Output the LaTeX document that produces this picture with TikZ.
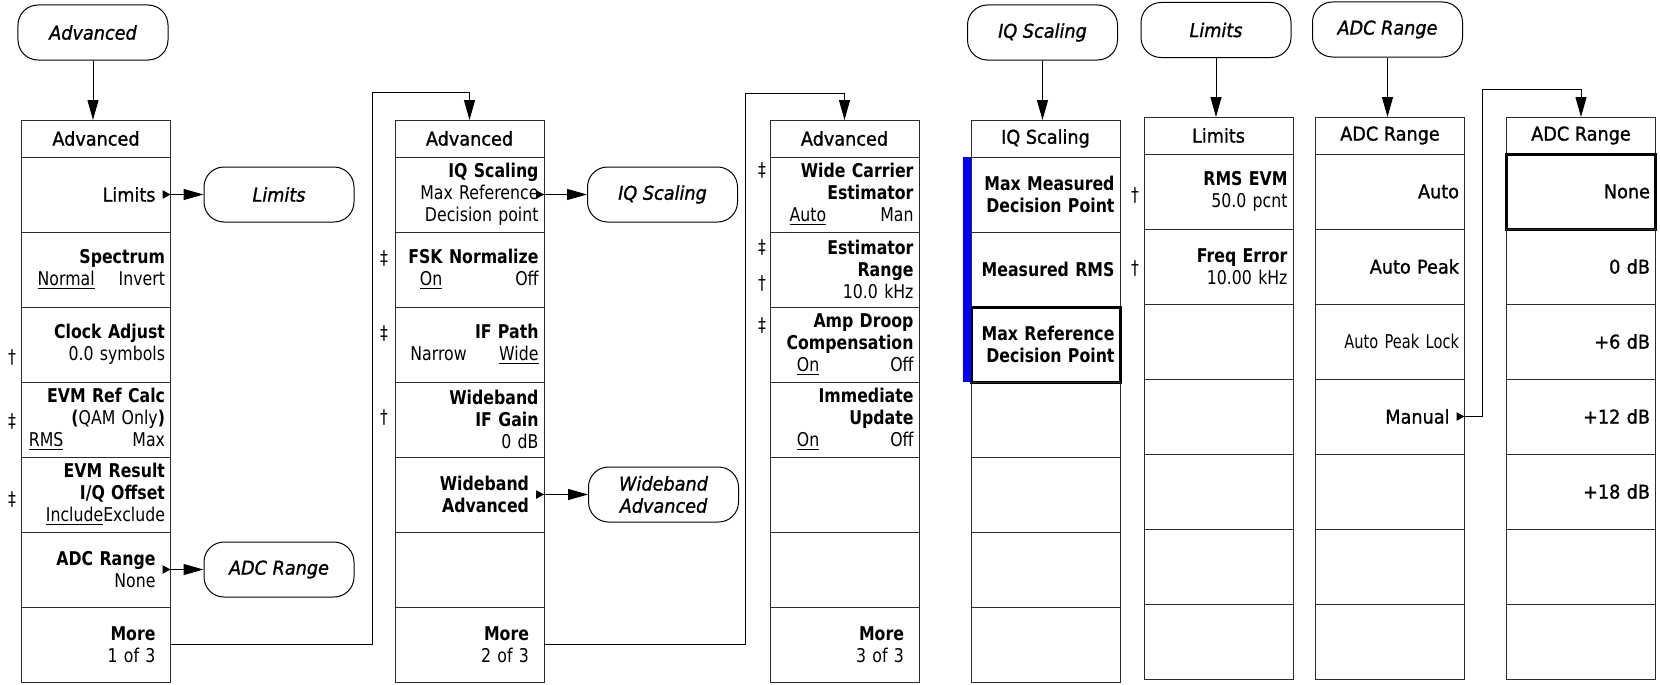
\documentclass[tikz,border=0pt]{standalone}
\usepackage{fontspec}
\setmainfont{DejaVu Sans}[FakeStretch=0.83]
\newfontfamily\headfont{DejaVu Sans}[FakeStretch=0.93,FakeBold=1.2]
\newfontfamily\narrowfont{DejaVu Sans}[FakeStretch=0.77]
\usetikzlibrary{arrows.meta,positioning}
\definecolor{framegray}{HTML}{2B2B2B}
\definecolor{barblue}{HTML}{0000FF}
\tikzset{
  menutitle/.style={
    draw=framegray,
    line width=0.2mm,
    outer sep=0pt,
    minimum width=29.8mm,
    minimum height=7.4mm,
    inner sep=0pt,
    font=\headfont\fontsize{10.8}{12.6}\selectfont
  },
  softkey/.style={
    draw=framegray,
    line width=0.2mm,
    outer sep=0pt,
    minimum width=29.8mm,
    minimum height=15mm,
    text width=27.6mm,
    inner xsep=1.1mm,
    inner ysep=1pt,
    align=right,
    font=\fontsize{10.8}{12.6}\selectfont
  },
  linkkey/.style={softkey,text width=23.8mm},
  selkey/.style={softkey,draw=black,line width=0.6mm},
  menuoval/.style={
    draw=black,
    line width=0.2mm,
    rounded corners=4mm,
    minimum width=30mm,
    minimum height=11mm,
    align=center,
    font=\headfont\itshape\fontsize{10.8}{12.6}\selectfont
  },
  daggermark/.style={inner sep=0pt,font=\fontsize{10.8}{12.6}\selectfont},
  flowarrow/.style={-{Triangle[length=4mm,width=2.2mm]},line width=0.2mm,draw=black},
  keylink/.style={{Triangle[length=1.6mm,width=1.7mm,reversed]}-{Triangle[length=4mm,width=2.2mm]},line width=0.2mm,draw=black}
}
\begin{document}
\begin{tikzpicture}[x=0.2mm,y=-0.2mm]
  \useasboundingbox (0,0) rectangle (1660,685);

  % first Advanced menu
  \node[menutitle] (m1) at (96,138.5) {Advanced};
  \node[linkkey,below=0pt of m1] (m1a) {\headfont Limits};
  \node[softkey,below=0pt of m1a] (m1b) {\textbf{Spectrum}\\
    \underline{Normal}\hspace{4.8mm}Invert};
  \node[softkey,below=0pt of m1b] (m1c) {\textbf{Clock Adjust}\\
    0.0 symbols};
  \node[softkey,below=0pt of m1c] (m1d) {\textbf{EVM Ref Calc}\\
    \textbf{(}QAM Only\textbf{)}\\\underline{RMS}\hspace{13.8mm}Max};
  \node[softkey,below=0pt of m1d] (m1e) {\textbf{EVM Result}\\
    \textbf{I/Q Offset}\\\underline{Include}Exclude};
  \node[linkkey,below=0pt of m1e] (m1f) {\textbf{ADC Range}\\None};
  \node[linkkey,below=0pt of m1f] (m1g) {\textbf{More}\\1 of 3};

  % second Advanced menu
  \node[menutitle] (m2) at (469.5,138.5) {Advanced};
  \node[softkey,below=0pt of m2] (m2a) {\textbf{IQ Scaling}\\
    Max Reference\hspace*{2mm}\\Decision point};
  \node[softkey,below=0pt of m2a] (m2b) {\textbf{FSK Normalize}\\
    \underline{On}\hspace{14.6mm}Off};
  \node[softkey,below=0pt of m2b] (m2c) {\textbf{IF Path}\\
    Narrow\hspace{6.5mm}\underline{Wide}};
  \node[softkey,below=0pt of m2c] (m2d) {\textbf{Wideband}\\
    \textbf{IF Gain}\\0 dB};
  \node[linkkey,below=0pt of m2d] (m2e) {\textbf{Wideband}\\\textbf{Advanced}};
  \node[softkey,below=0pt of m2e] (m2f) {};
  \node[linkkey,below=0pt of m2f] (m2g) {\textbf{More}\\2 of 3};

  % third Advanced menu
  \node[menutitle] (m3) at (844.5,138.5) {Advanced};
  \node[softkey,below=0pt of m3] (m3a) {\textbf{Wide Carrier}\\
    \textbf{Estimator}\\\underline{Auto}\hspace{10.8mm}Man};
  \node[softkey,below=0pt of m3a] (m3b) {\textbf{Estimator}\\
    \textbf{Range}\\10.0 kHz};
  \node[softkey,below=0pt of m3b] (m3c) {\textbf{Amp Droop}\\
    \textbf{Compensation}\\\underline{On}\hspace{14.2mm}Off};
  \node[softkey,below=0pt of m3c] (m3d) {\textbf{Immediate}\\
    \textbf{Update}\\\underline{On}\hspace{14.2mm}Off};
  \node[softkey,below=0pt of m3d] (m3e) {};
  \node[softkey,below=0pt of m3e] (m3f) {};
  \node[linkkey,below=0pt of m3f] (m3g) {\textbf{More}\\3 of 3};

  % IQ Scaling menu
  \node[menutitle] (iq) at (1045.5,138.5) {IQ Scaling};
  \node[softkey,below=0pt of iq] (iqa) {\textbf{Max Measured}\\
    \textbf{Decision Point}};
  \node[softkey,below=0pt of iqa] (iqb) {\textbf{Measured RMS}};
  \node[selkey,below=0pt of iqb] (iqc) {\textbf{Max Reference}\\
    \textbf{Decision Point}};
  \node[softkey,below=0pt of iqc] (iqd) {};
  \node[softkey,below=0pt of iqd] (iqe) {};
  \node[softkey,below=0pt of iqe] (iqf) {};
  \node[softkey,below=0pt of iqf] (iqg) {};
  \fill[barblue] ([xshift=-1.6mm]iqa.north west) rectangle (iqc.south west);

  % Limits menu
  \node[menutitle] (lim) at (1218.5,135.5) {Limits};
  \node[softkey,below=0pt of lim] (lima) {\textbf{RMS EVM}\\50.0 pcnt};
  \node[softkey,below=0pt of lima] (limb) {\textbf{Freq Error}\\10.00 kHz};
  \node[softkey,below=0pt of limb] (limc) {};
  \node[softkey,below=0pt of limc] (limd) {};
  \node[softkey,below=0pt of limd] (lime) {};
  \node[softkey,below=0pt of lime] (limf) {};
  \node[softkey,below=0pt of limf] (limg) {};

  % ADC Range menus
  \node[menutitle] (a1) at (1390,135.5) {ADC Range};
  \node[softkey,below=0pt of a1] (a1a) {\headfont Auto};
  \node[softkey,below=0pt of a1a] (a1b) {\headfont Auto Peak};
  \node[softkey,below=0pt of a1b] (a1c) {\narrowfont Auto Peak Lock};
  \node[linkkey,below=0pt of a1c] (a1d) {\headfont Manual};
  \node[softkey,below=0pt of a1d] (a1e) {};
  \node[softkey,below=0pt of a1e] (a1f) {};
  \node[softkey,below=0pt of a1f] (a1g) {};

  \node[menutitle] (a2) at (1581,135.5) {ADC Range};
  \node[selkey,below=0pt of a2] (a2a) {\headfont None};
  \node[softkey,below=0pt of a2a] (a2b) {\headfont 0 dB};
  \node[softkey,below=0pt of a2b] (a2c) {\headfont +6 dB};
  \node[softkey,below=0pt of a2c] (a2d) {\headfont +12 dB};
  \node[softkey,below=0pt of a2d] (a2e) {\headfont +18 dB};
  \node[softkey,below=0pt of a2e] (a2f) {};
  \node[softkey,below=0pt of a2f] (a2g) {};

  % ovals
  \node[menuoval] (ovadv) at (93,32.5) {Advanced};
  \node[menuoval,right=6.6mm of m1a] (ovlim) {Limits};
  \node[menuoval,right=6.6mm of m1f] (ovadc) {ADC Range};
  \node[menuoval,right=8.6mm of m2a] (oviq) {IQ Scaling};
  \node[menuoval,right=8.8mm of m2e] (ovwide) {Wideband\\Advanced};
  \node[menuoval] (oviqtop) at (1042.5,32.5) {IQ Scaling};
  \node[menuoval] (ovlimtop) at (1216,30) {Limits};
  \node[menuoval] (ovadctop) at (1387.5,29.5) {ADC Range};

  % daggers
  \node[daggermark] (dg1) at (12,357) {†};
  \node[daggermark] (dg2) at (12,421) {‡};
  \node[daggermark] (dg3) at (12,499) {‡};
  \node[daggermark] (dg4) at (384,258) {‡};
  \node[daggermark] (dg5) at (384,333) {‡};
  \node[daggermark] (dg6) at (384,417) {†};
  \node[daggermark] (dg7) at (762,170) {‡};
  \node[daggermark] (dg8) at (762,247) {‡};
  \node[daggermark] (dg9) at (762,283) {†};
  \node[daggermark] (dg10) at (762,325) {‡};
  \node[daggermark] (dg11) at (1135,195) {†};
  \node[daggermark] (dg12) at (1135,268) {†};

  % connectors
  \coordinate (turn1) at (372,92);
  \coordinate (turn2) at (745,93);
  \coordinate (turn3) at (1482,89);
  \draw[flowarrow] (ovadv.south) -- (ovadv.south |- m1.north);
  \draw[flowarrow] (oviqtop.south) -- (oviqtop.south |- iq.north);
  \draw[flowarrow] (ovlimtop.south) -- (ovlimtop.south |- lim.north);
  \draw[flowarrow] (ovadctop.south) -- (ovadctop.south |- a1.north);
  \draw[keylink] ([xshift=-1.6mm]m1a.east) -- (ovlim);
  \draw[keylink] ([xshift=-1.6mm]m1f.east) -- (ovadc);
  \draw[keylink] ([xshift=-1.6mm]m2a.east) -- (oviq);
  \draw[keylink] ([xshift=-1.6mm]m2e.east) -- (ovwide);
  \draw[flowarrow] (m1g.east) -| (turn1) -| (m2.north);
  \draw[flowarrow] (m2g.east) -| (turn2) -| (m3.north);
  \draw[keylink] ([xshift=-1.6mm]a1d.east) -| (turn3) -| (a2.north);
\end{tikzpicture}
\end{document}
